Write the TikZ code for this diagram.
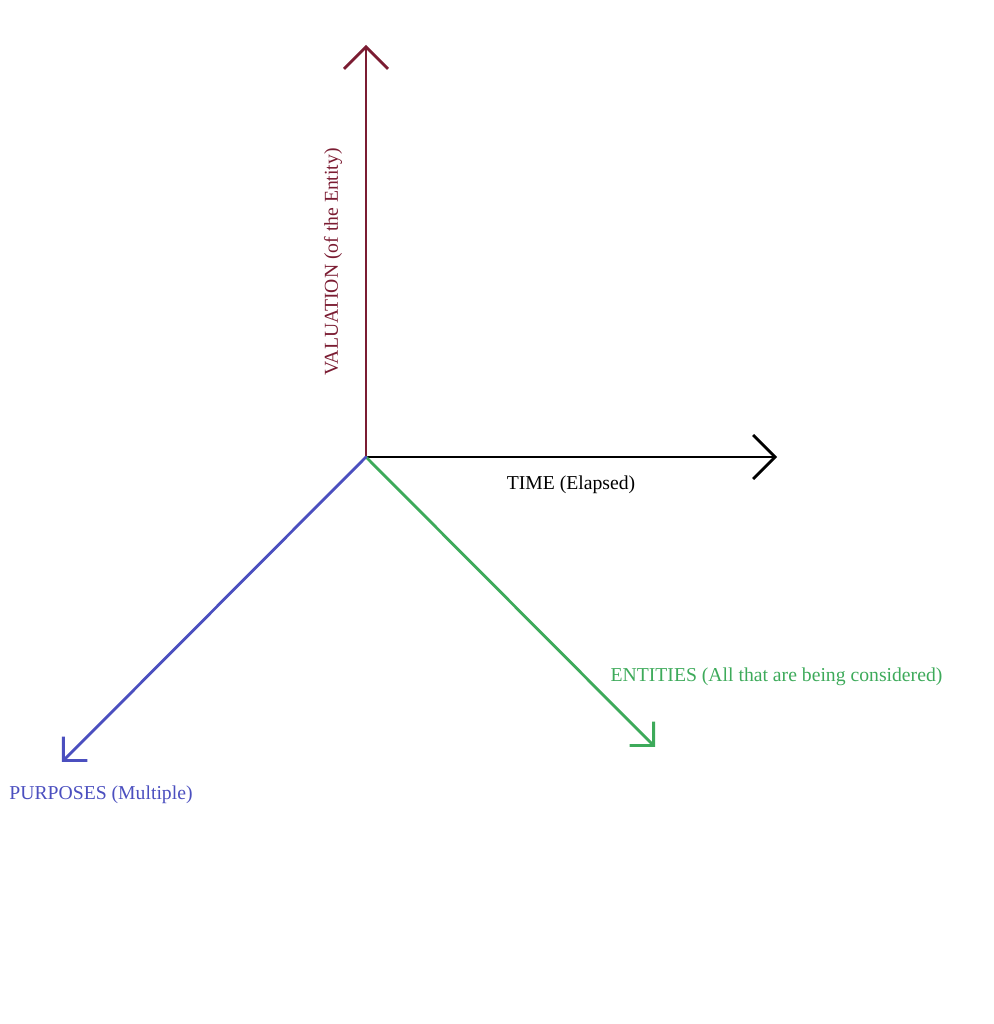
\documentclass[tikz,border=0pt]{standalone}
\usepackage{fontspec}
\setmainfont{Liberation Serif}
\usepackage{tikz}
\usepackage{xcolor}
\usetikzlibrary{arrows.meta, positioning}

\definecolor{valcol}{HTML}{7B1C32}
\definecolor{purpcol}{HTML}{4B4FBF}
\definecolor{entcol}{HTML}{3DAA5A}

\tikzset{
    axis/.style={line width=0.8pt, line join=round, line cap=round},
    flat/.style={-{Straight Barb[length=0.22cm, width=0.44cm, line width=0.8pt]}},
    slant/.style={-{Straight Barb[length=0.17cm, width=0.34cm, line width=0.8pt]}},
    axlabel/.style={inner sep=0pt, font=\fontsize{5.6}{7}\selectfont}
}

\begin{document}
\begin{tikzpicture}
                        \useasboundingbox (0, 0) rectangle (9.94, 10.24);
                        \coordinate (o) at (3.66, 5.67);
                        \coordinate (val) at (3.66, 9.79);
                        \coordinate (time) at (7.77, 5.67);
                        \coordinate (ent) at (6.55, 2.77);
                        \coordinate (purp) at (0.62, 2.62);

                        \draw[axis, flat, valcol] (o) -- (val);
                        \draw[axis, flat, black] (o) -- (time);
                        \draw[axis, slant, entcol] (o) -- (ent);
                        \draw[axis, slant, purpcol] (o) -- (purp);

                        \node[axlabel, valcol, rotate=90] (vallabel) at (3.33, 7.62) {VALUATION (of the Entity)};
                        \node[axlabel, black] (timelabel) at (5.71, 5.39) {TIME (Elapsed)};
                        \node[axlabel, entcol] (entlabel) at (7.765, 3.47) {ENTITIES (All that are being considered)};
                        \node[axlabel, purpcol] (purplabel) at (1.01, 2.29) {PURPOSES (Multiple)};
                    \end{tikzpicture}
\end{document}
